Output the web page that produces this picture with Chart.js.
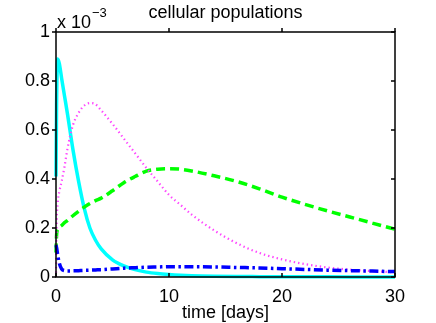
<!DOCTYPE html>
<html><head><meta charset="utf-8">
<script src="https://cdn.jsdelivr.net/npm/chart.js@4/dist/chart.umd.min.js"></script>
<style>html,body{margin:0;padding:0;background:#fff;overflow:hidden}</style>
</head><body>
<canvas id="c" width="436" height="323"></canvas>
<script>
// time in days; population values in units of 1e-3
const days = [0, 0.05, 0.15, 0.3, 0.5, 0.75, 1, 1.5, 2, 2.5, 3, 3.5, 4, 5, 6, 7, 8, 9, 10, 11, 12, 14, 16, 18, 20, 22, 24, 26, 28, 30];
const cyanSeries = [0.41, 0.70, 0.89, 0.87, 0.81, 0.74, 0.67, 0.52, 0.39, 0.28, 0.20, 0.15, 0.115, 0.07, 0.045, 0.03, 0.02, 0.014, 0.01, 0.007, 0.005, 0.003, 0.002, 0.0015, 0.001, 0.0008, 0.0006, 0.0005, 0.0004, 0.0003];
const greenSeries = [0.10, 0.17, 0.195, 0.203, 0.21, 0.222, 0.23, 0.25, 0.268, 0.285, 0.30, 0.312, 0.322, 0.352, 0.385, 0.41, 0.432, 0.44, 0.442, 0.44, 0.433, 0.413, 0.39, 0.36, 0.326, 0.297, 0.27, 0.245, 0.22, 0.195];
const magentaSeries = [0.0, 0.2, 0.3, 0.35, 0.39, 0.45, 0.52, 0.62, 0.67, 0.70, 0.71, 0.705, 0.68, 0.625, 0.565, 0.505, 0.445, 0.39, 0.335, 0.295, 0.255, 0.19, 0.138, 0.098, 0.072, 0.053, 0.039, 0.030, 0.024, 0.019];
const blueSeries = [0.13, 0.12, 0.09, 0.055, 0.033, 0.026, 0.025, 0.025, 0.026, 0.027, 0.028, 0.029, 0.030, 0.033, 0.036, 0.038, 0.040, 0.041, 0.042, 0.042, 0.042, 0.041, 0.039, 0.037, 0.034, 0.031, 0.028, 0.026, 0.024, 0.022];
const xTicks = [0, 10, 20, 30];
const yTicks = [0, 0.2, 0.4, 0.6, 0.8, 1];
const titleText = 'cellular populations';
const xLabel = 'time [days]';

const FONT = '"Liberation Sans", Arial, Helvetica, sans-serif';
const pts = arr => days.map((d, i) => ({x: d, y: arr[i]}));
const base = {pointRadius: 0, borderCapStyle: 'butt', cubicInterpolationMode: 'monotone', fill: false, clip: 6};

const frame = {
  id: 'frame',
  afterDraw(chart) {
    const {ctx, chartArea: a, scales: {x, y}} = chart;
    ctx.save();
    ctx.strokeStyle = '#000';
    ctx.lineWidth = 1.5;
    ctx.strokeRect(a.left, a.top, a.right - a.left, a.bottom - a.top);
    ctx.beginPath();
    const tl = 4;
    xTicks.forEach(v => {
      const px = x.getPixelForValue(v);
      ctx.moveTo(px, a.bottom); ctx.lineTo(px, a.bottom - tl);
      ctx.moveTo(px, a.top); ctx.lineTo(px, a.top - tl);
    });
    yTicks.forEach(v => {
      const py = y.getPixelForValue(v);
      ctx.moveTo(a.left, py); ctx.lineTo(a.left - tl, py);
      ctx.moveTo(a.right, py); ctx.lineTo(a.right - tl, py);
    });
    ctx.stroke();
    ctx.fillStyle = '#000';
    ctx.font = '18px ' + FONT;
    ctx.textBaseline = 'alphabetic';
    ctx.textAlign = 'center';
    const cx = (a.left + a.right) / 2;
    ctx.fillText(titleText, cx, 18);
    ctx.fillText(xLabel, cx, 318);
    ctx.textAlign = 'left';
    const m = 'x 10';
    ctx.fillText(m, a.left + 1, 28);
    const w = ctx.measureText(m).width;
    ctx.font = '13px ' + FONT;
    ctx.fillText('\u22123', a.left + 2 + w, 17);
    ctx.restore();
  }
};

new Chart(document.getElementById('c'), {
  type: 'line',
  data: {
    datasets: [
      {...base, data: pts(cyanSeries), borderColor: '#00ffff', borderWidth: 3.5, order: 4},
      {...base, data: pts(greenSeries), borderColor: '#00ff00', borderWidth: 3.5, borderDash: [9, 5], order: 3},
      {...base, data: pts(magentaSeries), borderColor: '#ff44ff', borderWidth: 2.2, borderDash: [1.4, 3], order: 2},
      {...base, data: pts(blueSeries), borderColor: '#0000ff', borderWidth: 3.5, borderDash: [9, 3.5, 2.5, 3.5], order: 1}
    ]
  },
  options: {
    responsive: false,
    animation: false,
    devicePixelRatio: 1,
    layout: {padding: {top: 32, right: 41, left: 0, bottom: 0}},
    plugins: {legend: {display: false}, tooltip: {enabled: false}, title: {display: false}},
    scales: {
      x: {
        type: 'linear', min: 0, max: 30,
        afterBuildTicks: s => { s.ticks = xTicks.map(v => ({value: v})); },
        afterFit: s => { s.height = 46; },
        grid: {display: false, drawTicks: false},
        border: {display: false},
        ticks: {font: {size: 18, family: FONT}, color: '#000', padding: 9, maxRotation: 0, autoSkip: false}
      },
      y: {
        type: 'linear', min: 0, max: 1,
        afterBuildTicks: s => { s.ticks = yTicks.map(v => ({value: v})); },
        afterFit: s => { s.width = 56; },
        grid: {display: false, drawTicks: false},
        border: {display: false},
        ticks: {font: {size: 18, family: FONT}, color: '#000', padding: 6, autoSkip: false,
                callback: v => String(Math.round(v * 10) / 10)}
      }
    }
  },
  plugins: [frame]
});
</script>
</body></html>
